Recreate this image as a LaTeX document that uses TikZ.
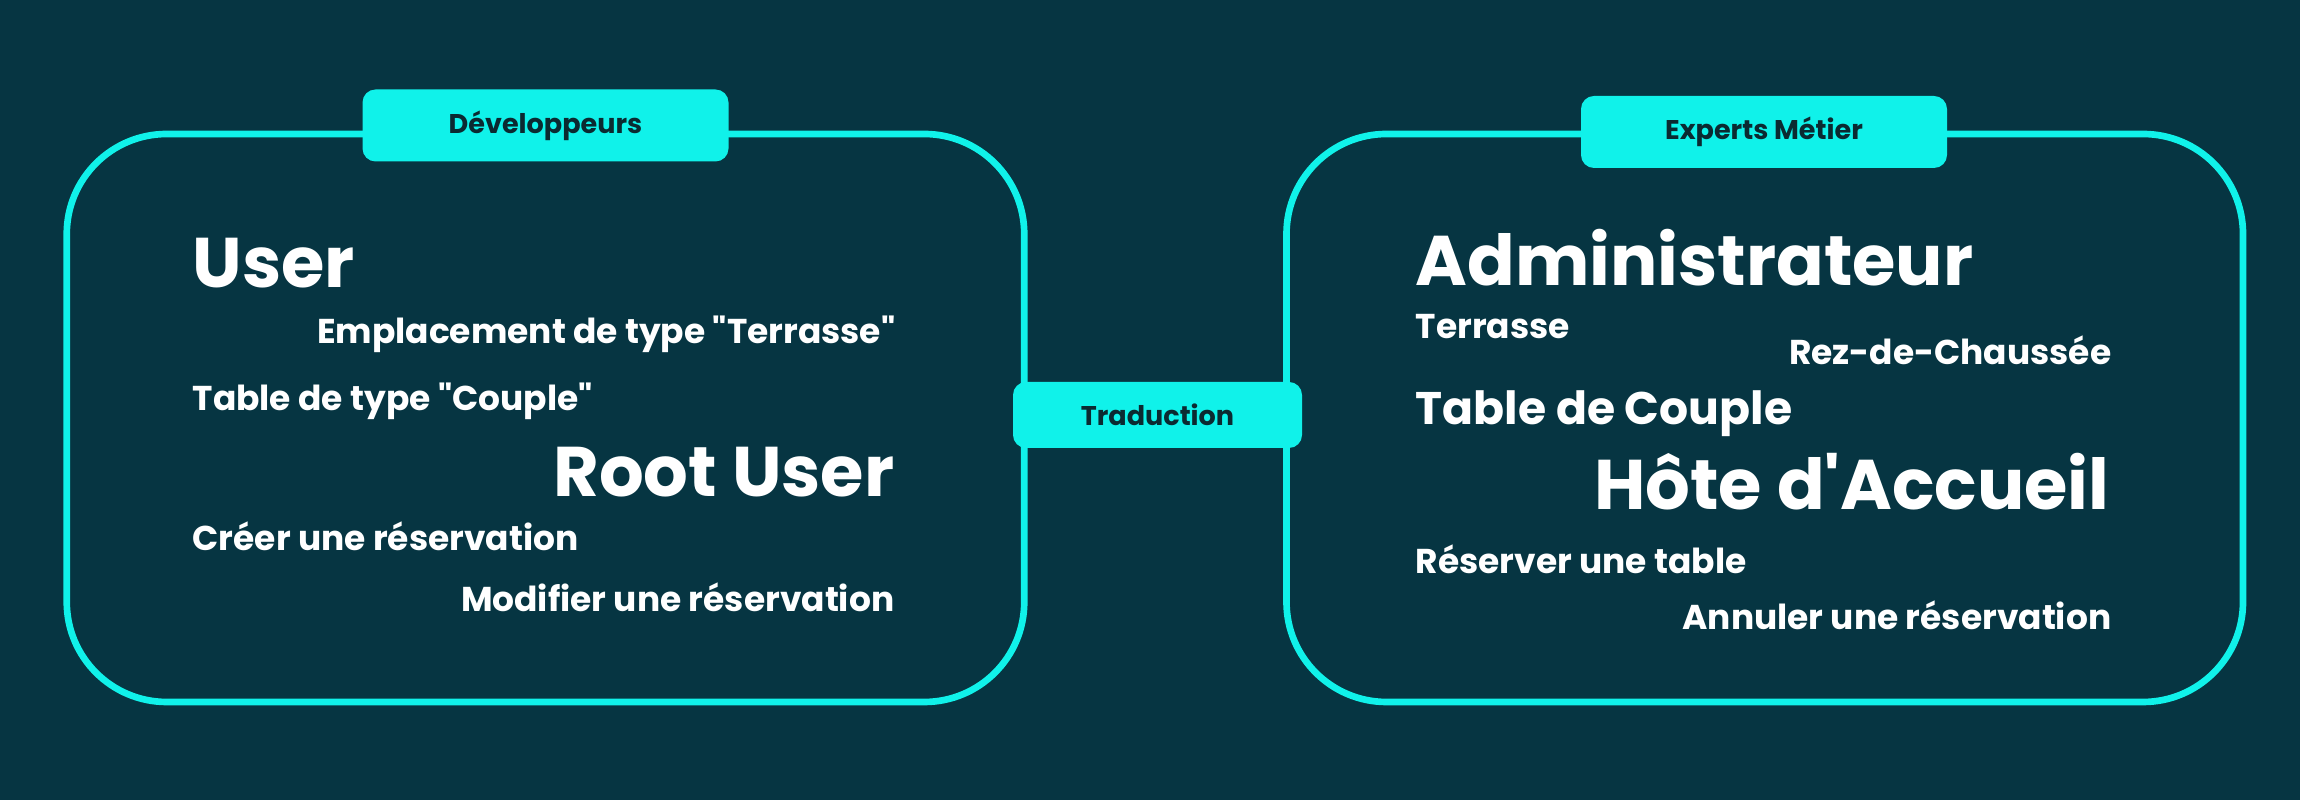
\documentclass[tikz,border=0pt]{standalone}
\usepackage{fontspec}
\setmainfont{Poppins}[Ligatures=TeXOff]
\definecolor{bgdark}{HTML}{063542}
\definecolor{cyanline}{HTML}{10F2EA}
\definecolor{tabtext}{HTML}{0B2A31}
\begin{document}
\begin{tikzpicture}[
    frame/.style={draw=cyanline, line width=1.9pt, rounded corners=1cm, inner sep=0pt},
    tab/.style={fill=cyanline, rounded corners=0.13cm, text=tabtext, font=\fontsize{7.7}{9}\selectfont\bfseries, inner sep=0pt},
    bigterm/.style={text=white, inner sep=0pt, font=\fontsize{20}{24}\selectfont\bfseries},
    midterm/.style={text=white, inner sep=0pt, font=\fontsize{13}{16}\selectfont\bfseries},
    term/.style={text=white, inner sep=0pt, font=\fontsize{9.8}{12}\selectfont\bfseries}
]

% Background
\fill[bgdark] (0, 0) rectangle (23, 8);
\useasboundingbox (0, 0) rectangle (23, 8);

% Left: developers
\node[frame, minimum width=9.575cm, minimum height=5.68cm] (devbox) at (5.455, 3.82) {};
\node[tab, minimum width=3.66cm, minimum height=0.72cm] (devtab) at (5.455, 6.745) {Développeurs};
\node[bigterm, anchor=base west] (user) at (1.92, 5.12) {User};
\node[term, anchor=base east] (emplacement) at (8.96, 4.56) {Emplacement de type "Terrasse"};
\node[term, anchor=base west] (tabletype) at (1.92, 3.89) {Table de type "Couple"};
\node[bigterm, anchor=base east] (rootuser) at (8.95, 3.03) {Root User};
\node[term, anchor=base west] (creer) at (1.92, 2.49) {Créer une réservation};
\node[term, anchor=base east] (modifier) at (8.95, 1.88) {Modifier une réservation};

% Right: domain experts
\node[frame, minimum width=9.565cm, minimum height=5.68cm] (expbox) at (17.6475, 3.82) {};
\node[tab, minimum width=3.66cm, minimum height=0.72cm] (exptab) at (17.64, 6.68) {Experts Métier};
\node[bigterm, anchor=base west] (admin) at (14.15, 5.14) {Administrateur};
\node[term, anchor=base west] (terrasse) at (14.15, 4.61) {Terrasse};
\node[term, anchor=base east] (rdc) at (21.12, 4.35) {Rez-de-Chaussée};
\node[midterm, anchor=base west] (tablecouple) at (14.15, 3.75) {Table de Couple};
\node[bigterm, anchor=base east] (hote) at (21.10, 2.90) {Hôte d'Accueil};
\node[term, anchor=base west] (reserver) at (14.15, 2.26) {Réserver une table};
\node[term, anchor=base east] (annuler) at (21.12, 1.70) {Annuler une réservation};

% Middle: translation between both
\node[tab, minimum width=2.89cm, minimum height=0.66cm] (trad) at (11.575, 3.85) {Traduction};

\end{tikzpicture}
\end{document}
